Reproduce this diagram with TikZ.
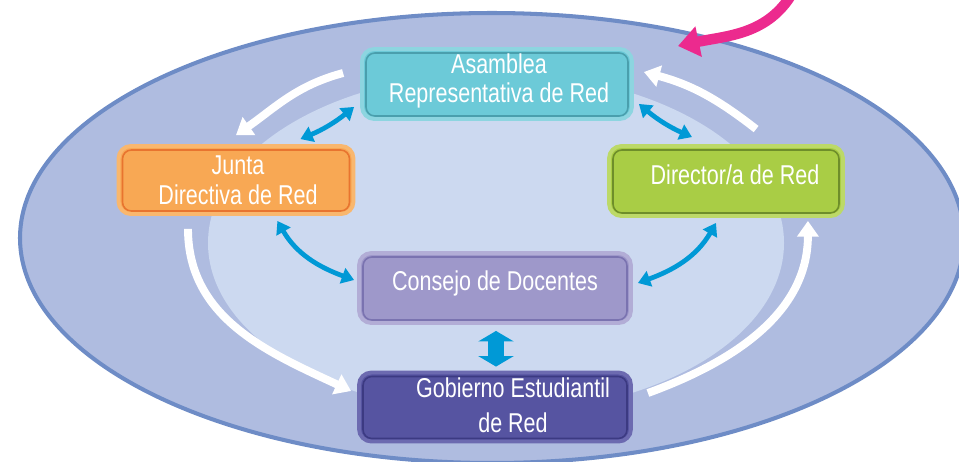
\documentclass[tikz,border=0pt]{standalone}
\usepackage{fontspec}
\setmainfont[FakeStretch=0.79]{Liberation Sans}
\usetikzlibrary{arrows.meta,calc}
\definecolor{outerfill}{HTML}{AFBCE0}
\definecolor{outerline}{HTML}{6E8CC6}
\definecolor{innerfill}{HTML}{CCD9F0}
\definecolor{arrblue}{HTML}{0099D6}
\definecolor{arrpink}{HTML}{EC2A8E}
\definecolor{asamfill}{HTML}{6CCAD8}
\definecolor{asamline}{HTML}{8DD5E0}
\definecolor{asamdark}{HTML}{4A9FAD}
\definecolor{juntafill}{HTML}{F8A854}
\definecolor{juntaline}{HTML}{F9B76E}
\definecolor{juntadark}{HTML}{E8742F}
\definecolor{dirfill}{HTML}{A9CD45}
\definecolor{dirline}{HTML}{BCD968}
\definecolor{dirdark}{HTML}{6E8E2A}
\definecolor{consfill}{HTML}{9E98CA}
\definecolor{consline}{HTML}{B2ADD6}
\definecolor{consdark}{HTML}{7A73B0}
\definecolor{gobfill}{HTML}{5654A1}
\definecolor{gobline}{HTML}{6C6AB0}
\definecolor{gobdark}{HTML}{3C3A82}

\begin{document}
\begin{tikzpicture}[x=0.02cm,y=-0.02cm,
  rim/.style={path picture={\draw[#1,line width=0.9pt,rounded corners=5pt]
    ([shift={(4,-3)}]path picture bounding box.south west) rectangle
    ([shift={(-4,4)}]path picture bounding box.north east);}}]
\tikzstyle{boxy}=[rectangle,rounded corners=7pt,line width=2.2pt,inner sep=0pt]
\tikzstyle{texto}=[text=white,align=center,font=\fontsize{15.5}{17}\selectfont]
\tikzstyle{dblue}=[draw=arrblue,line width=2.7pt,{Triangle[length=7pt,width=9pt]}-{Triangle[length=7pt,width=9pt]}]
\tikzstyle{warc}=[draw=white,line width=4.5pt,-{Triangle[length=9pt,width=12pt]}]
\useasboundingbox (0,0) rectangle (959,461);
\clip (0,0) rectangle (959,461);
% background ellipses
\filldraw[fill=outerfill,draw=outerline,line width=2.3pt] (492,238) ellipse [x radius=472,y radius=225];
\fill[innerfill] (496,243) ellipse [x radius=288,y radius=170];
% boxes
\node [boxy,fill=asamfill,draw=asamline,rim=asamdark,minimum width=5.4cm,minimum height=1.4cm] (asam) at (497,84) {};
\node [boxy,fill=juntafill,draw=juntaline,rim=juntadark,minimum width=4.7cm,minimum height=1.36cm] (junta) at (236,180) {};
\node [boxy,fill=dirfill,draw=dirline,rim=dirdark,minimum width=4.68cm,minimum height=1.4cm] (dir) at (726,181) {};
\node [boxy,fill=consfill,draw=consline,rim=consdark,minimum width=5.44cm,minimum height=1.4cm] (cons) at (495,288) {};
\node [boxy,fill=gobfill,draw=gobline,rim=gobdark,minimum width=5.44cm,minimum height=1.38cm] (gob) at (495,407) {};
% texts
\node [texto] (asamtxt) at ([shift={(2,-3)}]asam.center) {Asamblea\\Representativa de Red};
\node [texto] (juntatxt) at ([shift={(2,0)}]junta.center) {Junta\\Directiva de Red};
\node [texto] (dirtxt) at ([shift={(9,-6)}]dir.center) {Director/a de Red};
\node [texto] (constxt) at ([shift={(0,-5)}]cons.center) {Consejo de Docentes};
\node [texto] (gobtxt) at ([shift={(18,-2)}]gob.center) {Gobierno Estudiantil\\[3pt]de Red};
% white cycle
\draw [warc] ([shift={(-17,-11)}]asam.west) to[out=195,in=35] ([shift={(0,-9)}]junta.north);
\draw [warc] ([shift={(-48,13)}]junta.south) to[out=-90,in=155] ([shift={(-6,-16)}]gob.west);
\draw [warc] ([shift={(15,-14)}]gob.east) to[out=20,in=-90] ([shift={(-37,3)}]dir.south east);
\draw [warc] ([shift={(149,-15)}]dir.north west) to[out=142,in=-15] ([shift={(10,-12)}]asam.east);
% blue links
\draw [dblue] ([shift={(-55,-5)}]junta.north east) to[bend right=8] ([shift={(-6,-14)}]asam.south west);
\draw [dblue] ([shift={(5,-17)}]asam.south east) to[bend right=8] ([shift={(-34,-7)}]dir.north);
\draw [dblue] ([shift={(-78,5)}]junta.south east) to[out=-60,in=160] ([shift={(-3,-8)}]cons.west);
\draw [dblue] ([shift={(-10,5)}]dir.south) to[out=-120,in=20] ([shift={(5,-5)}]cons.east);
\draw [draw=arrblue,line width=9pt,{Triangle[length=6pt,width=20pt]}-{Triangle[length=6pt,width=20pt]}] ([shift={(1,6)}]cons.south) -- ([shift={(1,-4)}]gob.north);
% pink pointer
\coordinate (pinkstart) at (793,-8);
\coordinate (pinktip) at (678,46);
\draw [draw=arrpink,line width=6pt,-{Triangle[length=12pt,width=17pt]}] (pinkstart) to[out=-120,in=12] (pinktip);
\end{tikzpicture}
\end{document}
